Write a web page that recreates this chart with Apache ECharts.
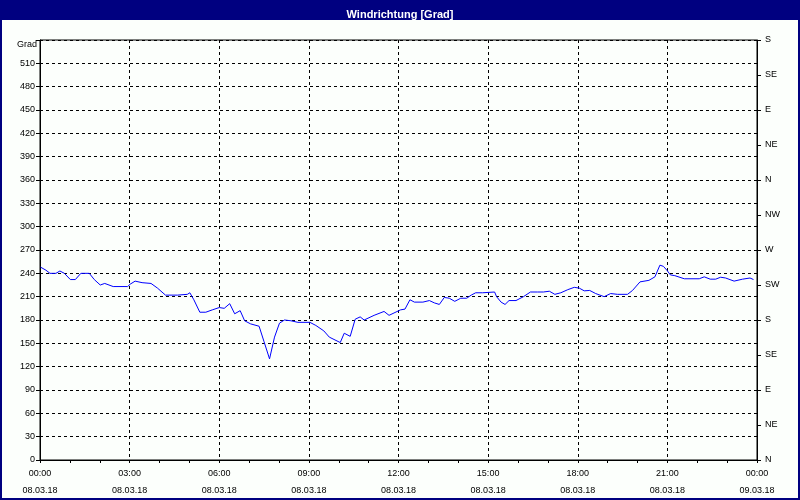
<!DOCTYPE html>
<html>
<head>
<meta charset="utf-8">
<script src="https://cdn.jsdelivr.net/npm/echarts@6/dist/echarts.min.js"></script>
<style>
html,body{margin:0;padding:0;background:#fff;}
#chart{width:800px;height:500px;}
</style>
</head>
<body>
<div id="chart"></div>
<script>
// Time of each reading in minutes after 08.03.18 00:00
var minutes = [1,12,20,32,40,49,61,71,82,99,109,121,130,147,176,181,191,205,223,236,252,276,279,296,301,309,321,333,346,360,370,381,391,402,411,423,440,450,461,471,481,491,504,518,542,554,570,581,603,611,623,633,643,651,671,691,701,724,733,743,752,769,782,792,802,812,822,833,845,857,866,875,889,913,917,926,934,942,956,971,985,999,1011,1023,1034,1046,1060,1073,1083,1093,1104,1116,1133,1146,1160,1180,1190,1205,1223,1235,1245,1252,1259,1266,1275,1294,1324,1334,1346,1357,1367,1377,1394,1411,1426,1433];
// Wind direction in degrees
var degrees = [248,244,240,240,243,240,232,232,240,240,232,225,227,223,223,226,230,228,227,221,212,212,213,213,215,206,190,190,193,196,195,201,188,192,179,175,172,152,130,158,176,180,179,177,177,173,166,158,151,163,159,181,184,180,186,191,186,193,194,206,203,203,205,202,200,209,208,204,208,208,212,215,215,216,210,203,200,205,205,210,216,216,216,217,213,215,219,222,221,217.5,218,214,210,214,213,213,218,229,231,235.5,250.5,249,244,238,237,233,233,235.5,232.5,232.5,235,234,230,232.5,234,232];
var xTickLabels = {0:'00:00\n08.03.18',180:'03:00\n08.03.18',360:'06:00\n08.03.18',540:'09:00\n08.03.18',720:'12:00\n08.03.18',900:'15:00\n08.03.18',1080:'18:00\n08.03.18',1260:'21:00\n08.03.18',1440:'00:00\n09.03.18'};
var compassLabels = ['N','NE','E','SE','S','SW','W','NW','N','NE','E','SE','S'];

var data = minutes.map(function(m,i){return [m, degrees[i]];});
var chart = echarts.init(document.getElementById('chart'));
var font = 'Liberation Sans';
chart.setOption({
  backgroundColor:'#fcfffc',
  animation:false,
  title:{text:'Windrichtung [Grad]',left:'center',top:4,textStyle:{color:'#ffffff',fontSize:11,fontWeight:'bold',fontFamily:font}},
  graphic:[
    {type:'rect',shape:{x:0,y:0,width:800,height:20},style:{fill:'#000080'},z:0},
    {type:'rect',shape:{x:1,y:1,width:798,height:498},style:{fill:null,stroke:'#000080',lineWidth:2},z:0}
  ],
  grid:{left:40,right:43,top:40,bottom:40,show:true,borderColor:'#000',borderWidth:1,backgroundColor:'transparent'},
  xAxis:{
    type:'value',min:0,max:1440,interval:180,
    axisLine:{show:true,lineStyle:{color:'#000',width:1}},
    axisTick:{show:true,length:3,lineStyle:{color:'#000'}},
    minorTick:{show:true,splitNumber:3,length:3,lineStyle:{color:'#000'}},
    axisLabel:{color:'#000',fontSize:9,fontFamily:font,lineHeight:17,margin:5,formatter:function(v){return xTickLabels[v]||'';}},
    splitLine:{show:true,lineStyle:{color:'#000',type:[3,3],width:1}}
  },
  yAxis:[
    {type:'value',min:0,max:540,interval:30,position:'left',
     name:'Grad',nameLocation:'end',nameGap:-5,
     nameTextStyle:{color:'#000',fontSize:9,fontFamily:font,align:'right',verticalAlign:'middle',padding:[0,3,0,0]},
     axisLine:{show:true,lineStyle:{color:'#000',width:1}},
     axisTick:{show:true,length:4,lineStyle:{color:'#000'}},
     axisLabel:{color:'#000',fontSize:9,fontFamily:font,margin:5,formatter:function(v){return v===540?'':String(v);}},
     splitLine:{show:true,lineStyle:{color:'#000',type:[3,3],width:1}}
    },
    {type:'value',min:0,max:540,interval:45,position:'right',
     axisLine:{show:true,lineStyle:{color:'#000',width:1}},
     axisTick:{show:true,length:4,lineStyle:{color:'#000'}},
     axisLabel:{color:'#000',fontSize:9,fontFamily:font,margin:8,formatter:function(v){return compassLabels[Math.round(v/45)]||'';}},
     splitLine:{show:false}
    }
  ],
  series:[{type:'line',data:data,yAxisIndex:0,showSymbol:false,symbol:'none',lineStyle:{color:'#0000ff',width:1},z:3}]
});
</script>
</body>
</html>
